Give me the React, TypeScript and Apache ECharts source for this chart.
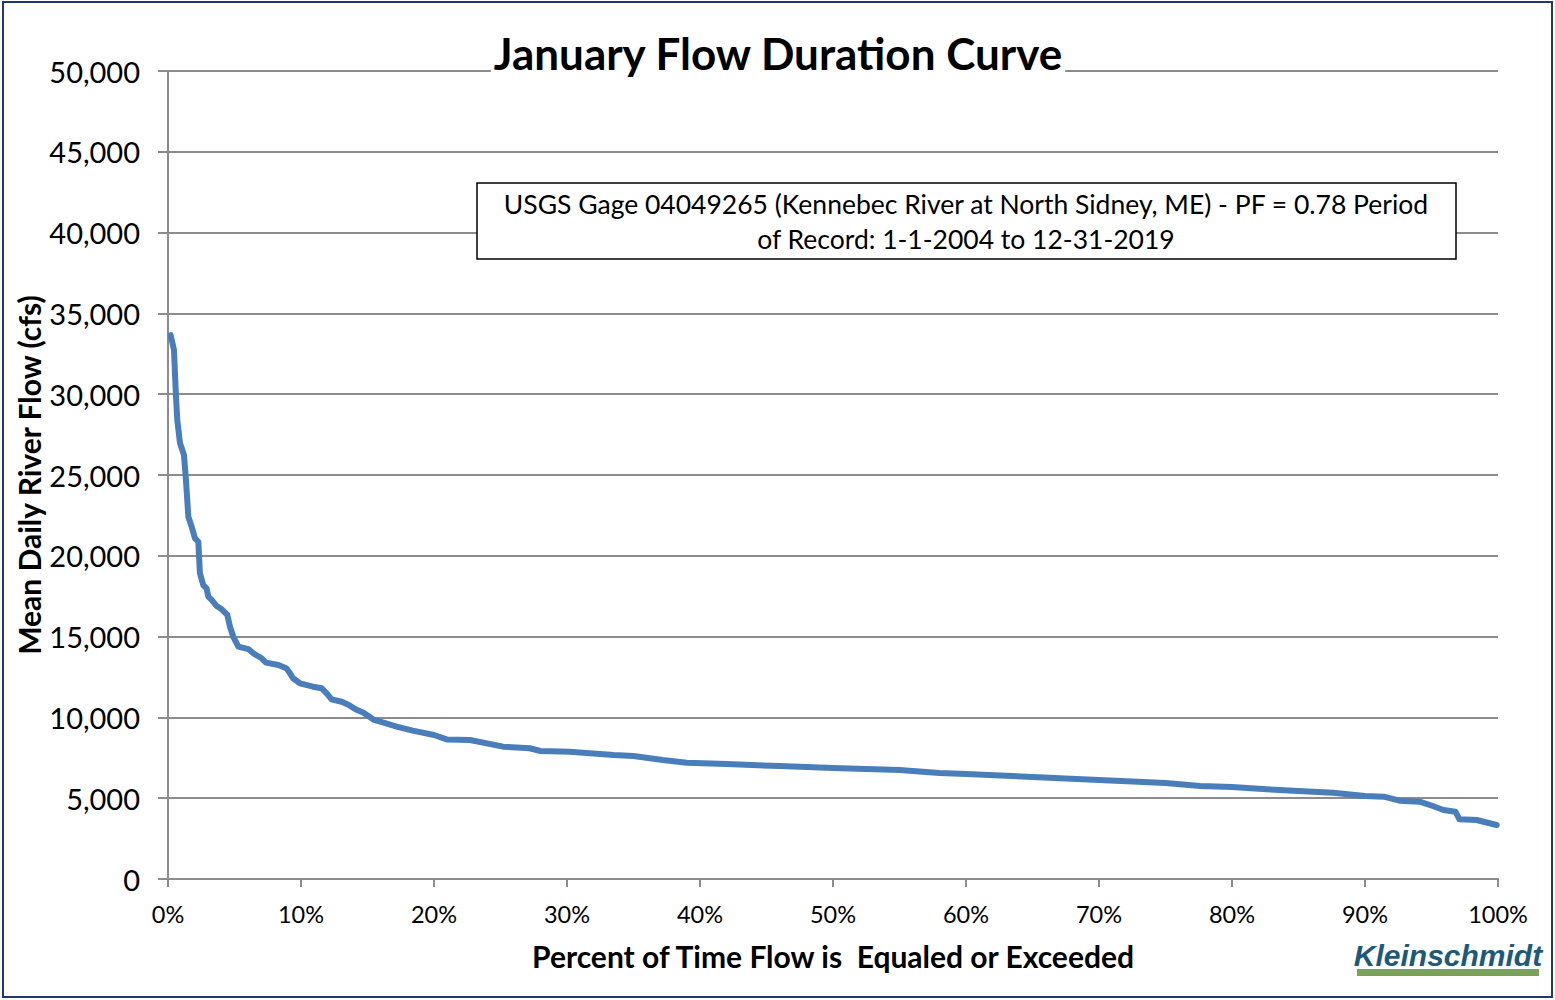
import React, { useEffect, useRef } from "react";
import * as echarts from "echarts";

const percentExceeded = [
  0.2, 0.45, 0.6, 0.7, 0.9, 1.2, 1.35, 1.53, 1.78, 2.03, 2.28, 2.4, 2.65, 2.9, 3.03, 3.28, 3.66, 4.04, 4.46, 4.66,
  4.91, 5.29, 6.04, 6.41, 7.04, 7.37, 8.3, 8.9, 9.17, 9.4, 9.92, 10.9, 11.56, 11.93, 12.3, 13.06, 13.6, 14.1, 14.7,
  15.5, 16.2, 17.2, 18.4, 20.0, 20.95, 22.7, 25.2, 27.2, 28.0, 30.2, 33.5, 35.0, 37.2, 39.0, 42, 46, 50, 55, 58, 60,
  65, 70, 75, 77.6, 80, 82.6, 85, 87.6, 90, 91.4, 92.6, 94.1, 95.1, 95.9, 96.8, 97.1, 98.4, 99.9,
];
const meanDailyFlow = [
  33660, 32740, 29850, 28400, 26980, 26240, 24690, 22420, 21800, 21080, 20870, 18920, 18190, 17990, 17470, 17270,
  16890, 16690, 16340, 15610, 14990, 14380, 14230, 13970, 13660, 13390, 13240, 13040, 12730, 12420, 12110, 11900,
  11800, 11490, 11120, 10970, 10770, 10500, 10290, 9840, 9670, 9430, 9180, 8910, 8640, 8600, 8190, 8090, 7920, 7880,
  7670, 7610, 7365, 7200, 7110, 6990, 6870, 6745, 6560, 6500, 6310, 6125, 5940, 5755, 5690, 5550, 5445, 5340, 5135,
  5093, 4845, 4783, 4517, 4270, 4165, 3694, 3651, 3340,
];

const chartTitle = "January Flow Duration Curve";
const xAxisTitle = "Percent of Time Flow is  Equaled or Exceeded";
const yAxisTitle = "Mean Daily River Flow (cfs)";
const noteLines = [
  "USGS Gage 04049265 (Kennebec River at North Sidney, ME) - PF = 0.78 Period",
  "of Record: 1-1-2004 to 12-31-2019",
];
const logoText = "Kleinschmidt";

const FONT = "Lato, 'Open Sans', sans-serif";
const GRAY = "#8c8c8c";

export default function App() {
  const ref = useRef<HTMLDivElement>(null);

  useEffect(() => {
    if (!ref.current) return;
    const chart = echarts.init(ref.current, undefined, { renderer: "svg" });
    const data = percentExceeded.map((p, i) => [p, meanDailyFlow[i]]);
    chart.setOption({
      animation: false,
      backgroundColor: "#ffffff",
      grid: { left: 168, right: 57, top: 71, bottom: 121, containLabel: false },
      xAxis: {
        type: "value",
        min: 0,
        max: 100,
        interval: 10,
        name: xAxisTitle,
        nameLocation: "middle",
        nameGap: 62,
        nameTextStyle: { fontFamily: FONT, fontSize: 30, fontWeight: "bold", color: "#000" },
        axisLine: { show: true, lineStyle: { color: GRAY, width: 2 } },
        axisTick: { show: true, length: 8, lineStyle: { color: GRAY, width: 2 } },
        axisLabel: {
          fontFamily: FONT,
          fontSize: 23.5,
          color: "#000",
          margin: 23,
          formatter: (v: number) => `${v}%`,
        },
        splitLine: { show: false },
      },
      yAxis: {
        type: "value",
        min: 0,
        max: 50000,
        interval: 5000,
        axisLine: { show: true, lineStyle: { color: GRAY, width: 2 } },
        axisTick: { show: true, length: 10, lineStyle: { color: GRAY, width: 2 } },
        axisLabel: {
          fontFamily: FONT,
          fontSize: 29,
          color: "#000",
          margin: 28,
          formatter: (v: number) => v.toLocaleString("en-US"),
        },
        splitLine: { show: true, lineStyle: { color: GRAY, width: 2 } },
      },
      series: [
        {
          type: "line",
          data,
          showSymbol: false,
          smooth: false,
          lineStyle: { color: "#4a7ebb", width: 6, cap: "round", join: "round" },
          z: 3,
        },
      ],
      graphic: [
        {
          type: "rect",
          shape: { x: 3, y: 2, width: 1549, height: 995 },
          style: { fill: "none", stroke: "#1f3a6e", lineWidth: 2 },
          silent: true,
          z: 100,
        },
        {
          type: "text",
          x: 29,
          y: 475,
          rotation: Math.PI / 2,
          style: {
            text: yAxisTitle,
            fontFamily: FONT,
            fontSize: 30,
            fontWeight: "bold",
            fill: "#000",
            align: "center",
            verticalAlign: "middle",
          },
          z: 50,
        },
        {
          type: "text",
          x: 778,
          y: 53,
          style: {
            text: chartTitle,
            fontFamily: FONT,
            fontSize: 44,
            fontWeight: "bold",
            fill: "#000",
            align: "center",
            verticalAlign: "middle",
            backgroundColor: "#fff",
            padding: [0, 2, 0, 2],
          },
          z: 50,
        },
        {
          type: "rect",
          shape: { x: 477, y: 183, width: 979, height: 76 },
          style: { fill: "#fff", stroke: "#000", lineWidth: 1.5 },
          z: 50,
        },
        {
          type: "text",
          x: 966,
          y: 204,
          style: {
            text: noteLines[0],
            fontFamily: FONT,
            fontSize: 26.5,
            fill: "#000",
            align: "center",
            verticalAlign: "middle",
          },
          z: 51,
        },
        {
          type: "text",
          x: 966,
          y: 239,
          style: {
            text: noteLines[1],
            fontFamily: FONT,
            fontSize: 26.5,
            fill: "#000",
            align: "center",
            verticalAlign: "middle",
          },
          z: 51,
        },
        {
          type: "text",
          x: 1448,
          y: 955,
          style: {
            text: logoText,
            fontFamily: "'Liberation Sans', Arial, sans-serif",
            fontSize: 30,
            fontWeight: "bold",
            fontStyle: "italic",
            fill: "#1d5a7a",
            align: "center",
            verticalAlign: "middle",
          },
          z: 51,
        },
        {
          type: "rect",
          shape: { x: 1357, y: 969, width: 182, height: 7 },
          style: { fill: "#7ba05b" },
          z: 51,
        },
      ],
    });
    return () => chart.dispose();
  }, []);

  return (
    <div
      ref={ref}
      style={{ position: "fixed", left: 0, top: 0, width: 1555, height: 1000 }}
    />
  );
}
